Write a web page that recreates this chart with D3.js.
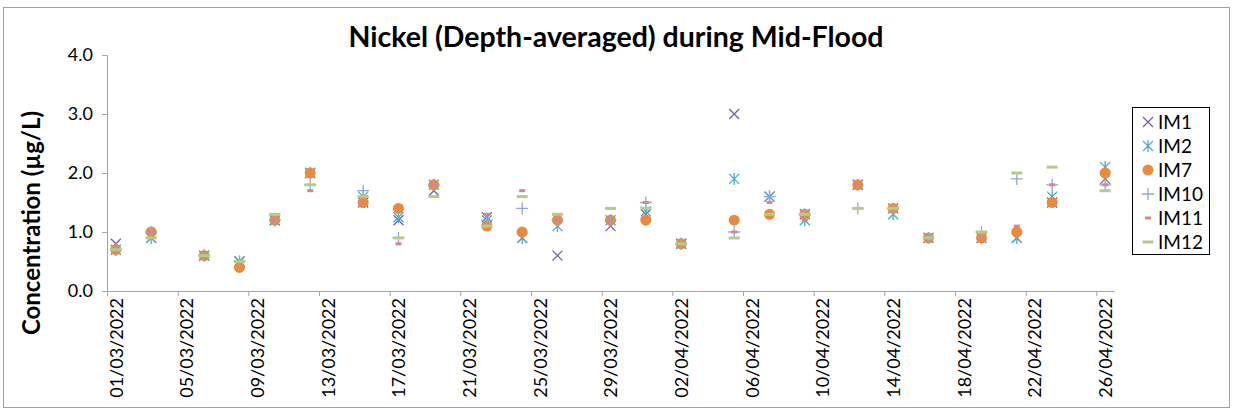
<!DOCTYPE html>
<html>
<head>
<meta charset="utf-8">
<script src="https://cdn.jsdelivr.net/npm/d3@7"></script>
<style>
  html, body { margin: 0; padding: 0; background: #fff; }
  svg { display: block; font-family: Lato, "Liberation Sans", sans-serif; }
</style>
</head>
<body>
<svg id="chart" width="1234" height="412"></svg>
<script>
// Sampling dates (mid-flood, depth-averaged)
const sampleDates = [
  "2022-03-01", "2022-03-03", "2022-03-06", "2022-03-08", "2022-03-10",
  "2022-03-12", "2022-03-15", "2022-03-17", "2022-03-19", "2022-03-22",
  "2022-03-24", "2022-03-26", "2022-03-29", "2022-03-31", "2022-04-02",
  "2022-04-05", "2022-04-07", "2022-04-09", "2022-04-12", "2022-04-14",
  "2022-04-16", "2022-04-19", "2022-04-21", "2022-04-23", "2022-04-26"
];

// Nickel concentration (µg/L) by station
const im1  = [0.8, 0.9, 0.6, 0.5, 1.2, 2.0, 1.5, 1.2, 1.7, 1.25, 0.9, 0.6, 1.1, 1.3, 0.8, 3.0, 1.6, 1.3, 1.8, 1.4, 0.9, 0.9, 0.9, 1.5, 1.9];
const im2  = [0.7, 0.9, 0.6, 0.5, 1.2, 2.0, 1.6, 1.25, 1.8, 1.2, 0.9, 1.1, 1.2, 1.35, 0.8, 1.9, 1.6, 1.2, 1.8, 1.3, 0.9, 0.9, 0.9, 1.6, 2.1];
const im7  = [0.7, 1.0, 0.6, 0.4, 1.2, 2.0, 1.5, 1.4, 1.8, 1.1, 1.0, 1.2, 1.2, 1.2, 0.8, 1.2, 1.3, 1.3, 1.8, 1.4, 0.9, 0.9, 1.0, 1.5, 2.0];
const im10 = [0.7, 1.0, 0.6, 0.5, 1.2, 1.8, 1.7, 0.9, 1.8, 1.2, 1.4, 1.2, 1.2, 1.5, 0.8, 1.0, 1.6, 1.3, 1.4, 1.4, 0.9, 1.0, 1.9, 1.8, 1.8];
const im11 = [0.7, 1.0, 0.6, 0.5, 1.2, 1.7, 1.5, 0.8, 1.8, 1.3, 1.7, 1.2, 1.2, 1.5, 0.8, 1.0, 1.5, 1.2, 1.8, 1.4, 0.9, 0.9, 1.1, 1.8, 1.8];
const im12 = [0.7, 0.9, 0.6, 0.5, 1.3, 1.8, 1.6, 0.9, 1.6, 1.1, 1.6, 1.3, 1.4, 1.4, 0.8, 0.9, 1.3, 1.3, 1.4, 1.4, 0.9, 1.0, 2.0, 2.1, 1.7];

const seriesNames = ["IM1", "IM2", "IM7", "IM10", "IM11", "IM12"];
const seriesValues = [im1, im2, im7, im10, im11, im12];

// Axis settings
const xStart = "2022-03-01";
const xEnd = "2022-04-27";
const xTickStepDays = 4;
const yTicks = [0, 1, 2, 3, 4];

const titleText = "Nickel (Depth-averaged) during Mid-Flood";
const yTitleText = "Concentration (µg/L)";

// Marker styles per series
const markerStyle = {
  IM1:  { shape: "x",        color: "#7B5F9E" },
  IM2:  { shape: "asterisk", color: "#4BACC6" },
  IM7:  { shape: "circle",   color: "#EA8A3E" },
  IM10: { shape: "plus",     color: "#8EA8D8" },
  IM11: { shape: "dash",     color: "#D7878B" },
  IM12: { shape: "longdash", color: "#B4CC8A" }
};

const parse = d3.timeParse("%Y-%m-%d");
const fmt = d3.timeFormat("%d/%m/%Y");

const svg = d3.select("#chart");
const W = 1234, H = 412;
const plot = { left: 107, right: 1114, top: 55, bottom: 291 };

// Chart frame
svg.append("rect")
  .attr("x", 3.5).attr("y", 7.5)
  .attr("width", W - 8).attr("height", H - 12)
  .attr("fill", "#fff").attr("stroke", "#A0A0A0").attr("stroke-width", 1);

const x = d3.scaleTime()
  .domain([parse(xStart), parse(xEnd)])
  .range([plot.left, plot.right]);
const dayW = x(d3.timeDay.offset(parse(xStart), 1)) - x(parse(xStart));
const xc = d => x(d) + dayW / 2;

const y = d3.scaleLinear().domain([0, 4]).range([plot.bottom, plot.top]);

// Title
svg.append("text")
  .attr("x", 616).attr("y", 47)
  .attr("text-anchor", "middle")
  .attr("font-weight", "bold")
  .attr("font-size", 28.5)
  .attr("fill", "#000")
  .text(titleText);

// Y axis
const yAxis = svg.append("g")
  .attr("transform", `translate(${plot.left},0)`)
  .call(d3.axisLeft(y).tickValues(yTicks).tickFormat(d3.format(".1f")).tickSize(5).tickPadding(9));
yAxis.select(".domain").attr("stroke", "#A6A6A6");
yAxis.selectAll(".tick line").attr("stroke", "#A6A6A6");
yAxis.selectAll(".tick text")
  .attr("font-size", 18).attr("fill", "#000")
  .attr("font-family", "Lato, 'Liberation Sans', sans-serif");

// Y title
svg.append("text")
  .attr("transform", `translate(40,${(plot.top + plot.bottom) / 2 + 50}) rotate(-90)`)
  .attr("text-anchor", "middle")
  .attr("font-weight", "bold")
  .attr("font-size", 24)
  .attr("fill", "#000")
  .text(yTitleText);

// X axis
const tickDates = d3.timeDay.range(parse(xStart), parse(xEnd), xTickStepDays);
const xAxis = svg.append("g")
  .attr("transform", `translate(0,${plot.bottom})`)
  .call(d3.axisBottom(x).tickValues(tickDates).tickFormat(fmt).tickSize(5).tickSizeOuter(0));
xAxis.select(".domain").attr("stroke", "#A6A6A6");
xAxis.selectAll(".tick line").attr("stroke", "#A6A6A6");
xAxis.selectAll(".tick text")
  .attr("font-size", 18).attr("fill", "#000")
  .attr("font-family", "Lato, 'Liberation Sans', sans-serif")
  .attr("text-anchor", "end")
  .attr("dy", "0.35em")
  .attr("transform", `translate(${dayW / 2},7) rotate(-90)`)
  .attr("y", 0).attr("x", 0);

// Marker drawing
function drawMarker(g, shape, color) {
  const s = 5;
  switch (shape) {
    case "x":
      g.append("path").attr("d", `M${-s},${-s}L${s},${s}M${-s},${s}L${s},${-s}`)
        .attr("stroke", color).attr("stroke-width", 1.3).attr("fill", "none");
      break;
    case "asterisk":
      g.append("path").attr("d", `M${-s},${-s}L${s},${s}M${-s},${s}L${s},${-s}M0,${-s - 1}L0,${s + 1}`)
        .attr("stroke", color).attr("stroke-width", 1.3).attr("fill", "none");
      break;
    case "circle":
      g.append("circle").attr("r", 5.5).attr("fill", color);
      break;
    case "plus":
      g.append("path").attr("d", `M${-s - 1},0L${s + 1},0M0,${-s - 1}L0,${s + 1}`)
        .attr("stroke", color).attr("stroke-width", 1.3).attr("fill", "none");
      break;
    case "dash":
      g.append("rect").attr("x", -3).attr("y", -1.5).attr("width", 6).attr("height", 3).attr("fill", color);
      break;
    case "longdash":
      g.append("rect").attr("x", -5.5).attr("y", -1.5).attr("width", 11).attr("height", 3).attr("fill", color);
      break;
  }
}

const dates = sampleDates.map(parse);
seriesNames.forEach((name, i) => {
  const st = markerStyle[name];
  const g = svg.append("g").attr("class", "series-" + name);
  seriesValues[i].forEach((v, j) => {
    const m = g.append("g").attr("transform", `translate(${xc(dates[j])},${y(v)})`);
    drawMarker(m, st.shape, st.color);
  });
});

// Legend
const legend = svg.append("g");
legend.append("rect")
  .attr("x", 1132.5).attr("y", 107.5).attr("width", 77).attr("height", 147)
  .attr("fill", "#fff").attr("stroke", "#000").attr("stroke-width", 1);
seriesNames.forEach((name, i) => {
  const cy = 122 + i * 24;
  const m = legend.append("g").attr("transform", `translate(1148,${cy})`);
  drawMarker(m, markerStyle[name].shape, markerStyle[name].color);
  legend.append("text")
    .attr("x", 1158).attr("y", cy).attr("dy", "0.36em")
    .attr("font-size", 19).attr("fill", "#000")
    .text(name);
});
</script>
</body>
</html>
